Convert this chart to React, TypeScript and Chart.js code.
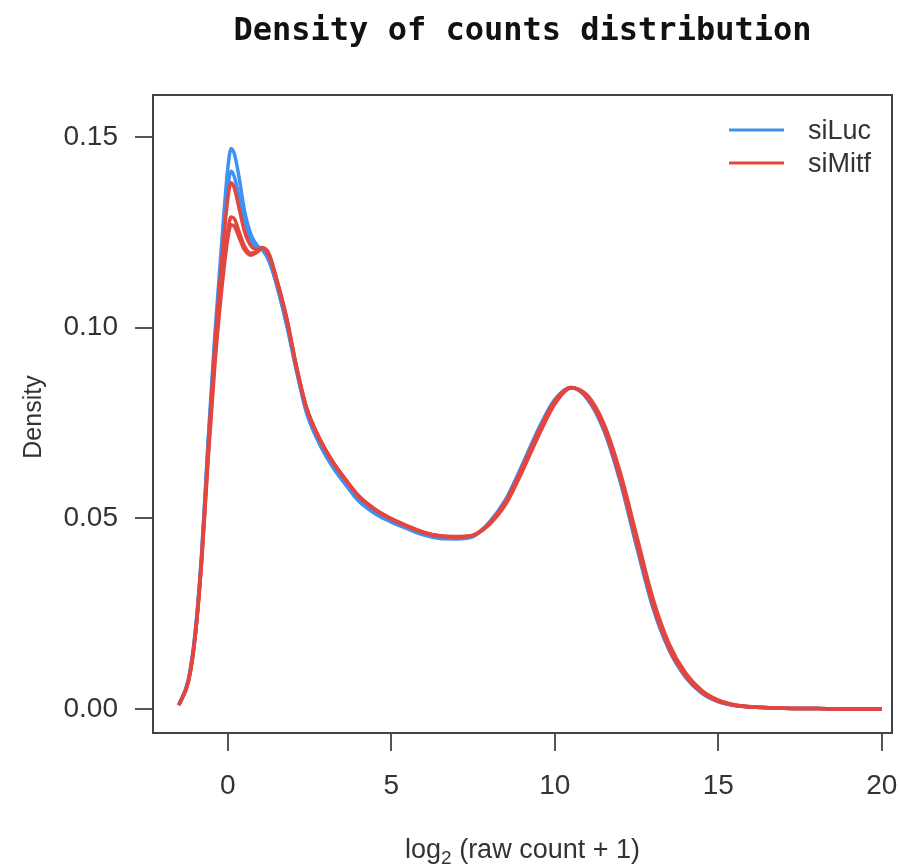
import React, { useEffect, useRef } from "react";
import { Chart, registerables } from "chart.js";

Chart.register(...registerables);

// ---------- data ----------
const xGrid = [
  -1.5, -1.2, -1.0, -0.8, -0.6, -0.4, -0.2, 0, 0.1, 0.2, 0.35, 0.5, 0.7, 0.9, 1.05, 1.25, 1.5, 1.8,
  2.1, 2.4, 2.8, 3.2, 3.6, 4.0, 4.5, 5.0, 5.5, 6.0, 6.5, 7.0, 7.5,
  8.0, 8.5, 9.0, 9.5, 10.0, 10.5, 11.0, 11.5, 12.0, 12.5, 13.0, 13.5, 14.0, 14.5, 15.0, 15.5, 16.0, 17.0, 18.0, 19.0, 20.0,
];

const siLuc1 = [
  0.001, 0.008, 0.020, 0.041, 0.071, 0.098, 0.121, 0.142, 0.147, 0.1455, 0.139, 0.131, 0.1245, 0.1215, 0.1205, 0.1175, 0.111, 0.1005,
  0.0886, 0.0778, 0.0695, 0.0635, 0.0588, 0.0545, 0.0512, 0.049, 0.0472, 0.0456, 0.0447, 0.0446, 0.0452,
  0.0490, 0.0550, 0.0640, 0.0735, 0.0812, 0.0843, 0.0812, 0.0730, 0.0595, 0.0425, 0.0265, 0.0153, 0.0083, 0.0041, 0.0019, 0.0009, 0.0005, 0.0002, 0.0001, 0.0, 0.0,
];
const siLuc2 = [
  0.001, 0.008, 0.020, 0.041, 0.070, 0.096, 0.118, 0.137, 0.141, 0.1395, 0.134, 0.128, 0.1230, 0.1210, 0.1205, 0.1180, 0.111, 0.1010,
  0.0889, 0.0781, 0.0698, 0.0638, 0.0591, 0.0548, 0.0514, 0.0492, 0.0474, 0.0458, 0.0449, 0.0448, 0.0454,
  0.0489, 0.0548, 0.0637, 0.0732, 0.0810, 0.0843, 0.0814, 0.0733, 0.0599, 0.0430, 0.0268, 0.0155, 0.0084, 0.0042, 0.0019, 0.0009, 0.0005, 0.0002, 0.0001, 0.0, 0.0,
];
const siMitf1 = [
  0.001, 0.0075, 0.019, 0.040, 0.069, 0.095, 0.116, 0.134, 0.138, 0.1365, 0.131, 0.1255, 0.1215, 0.1205, 0.1208, 0.1190, 0.112, 0.1020,
  0.0895, 0.0790, 0.0708, 0.0648, 0.0600, 0.0557, 0.0522, 0.0497, 0.0478, 0.0462, 0.0453, 0.0451, 0.0456,
  0.0488, 0.0545, 0.0633, 0.0728, 0.0808, 0.0843, 0.0815, 0.0735, 0.0603, 0.0435, 0.0273, 0.0158, 0.0086, 0.0043, 0.0020, 0.0010, 0.0005, 0.0002, 0.0001, 0.0, 0.0,
];
const siMitf2 = [
  0.001, 0.0075, 0.019, 0.039, 0.067, 0.092, 0.111, 0.1255, 0.129, 0.1285, 0.125, 0.1215, 0.1195, 0.1200, 0.1210, 0.1195, 0.1125, 0.1025,
  0.0897, 0.0792, 0.0710, 0.0650, 0.0602, 0.0559, 0.0524, 0.0499, 0.0480, 0.0463, 0.0454, 0.0452, 0.0456,
  0.0484, 0.0537, 0.0622, 0.0716, 0.0800, 0.0842, 0.0822, 0.0748, 0.0620, 0.0455, 0.0290, 0.0170, 0.0094, 0.0048, 0.0023, 0.0011, 0.0006, 0.0002, 0.0001, 0.0, 0.0,
];
const siMitf3 = [
  0.001, 0.0075, 0.019, 0.039, 0.066, 0.090, 0.109, 0.1235, 0.127, 0.1265, 0.1235, 0.1205, 0.1190, 0.1198, 0.1208, 0.1193, 0.1123, 0.1023,
  0.0896, 0.0791, 0.0709, 0.0649, 0.0601, 0.0558, 0.0523, 0.0498, 0.0479, 0.0462, 0.0453, 0.0451, 0.0455,
  0.0486, 0.0541, 0.0628, 0.0722, 0.0804, 0.0843, 0.0818, 0.0741, 0.0611, 0.0445, 0.0281, 0.0164, 0.0090, 0.0045, 0.0021, 0.0010, 0.0005, 0.0002, 0.0001, 0.0, 0.0,
];

const xTicks = [0, 5, 10, 15, 20];
const yTicks = [0, 0.05, 0.1, 0.15];
const legendLabels = ["siLuc", "siMitf"];
const titleText = "Density of counts distribution";
const yTitle = "Density";

const BLUE = "#3f92f2";
const RED = "#e2463f";

const toPts = (ys: number[]) => xGrid.map((x, i) => ({ x, y: ys[i] }));

const decor = {
  id: "decor",
  afterDraw(chart: any) {
    const { ctx, chartArea } = chart;
    const { left, right, top, bottom } = chartArea;
    ctx.save();
    // plot box
    ctx.strokeStyle = "#444";
    ctx.lineWidth = 2;
    ctx.strokeRect(left, top, right - left, bottom - top);

    const cx = (left + right) / 2;
    // title
    ctx.fillStyle = "#111";
    ctx.font = "bold 32px 'DejaVu Sans Mono'";
    ctx.textAlign = "center";
    ctx.textBaseline = "alphabetic";
    ctx.fillText(titleText, cx, 40);

    // y title
    ctx.save();
    ctx.translate(41, (top + bottom) / 2 + 3);
    ctx.rotate(-Math.PI / 2);
    ctx.font = "25px 'Liberation Sans'";
    ctx.fillStyle = "#333";
    ctx.textAlign = "center";
    ctx.textBaseline = "alphabetic";
    ctx.fillText(yTitle, 0, 0);
    ctx.restore();

    // x title: log2 (raw count + 1)
    const big = "27px 'Liberation Sans'";
    const small = "19px 'Liberation Sans'";
    ctx.font = big;
    const p1 = "log";
    const p3 = " (raw count + 1)";
    const w1 = ctx.measureText(p1).width;
    const w3 = ctx.measureText(p3).width;
    ctx.font = small;
    const w2 = ctx.measureText("2").width;
    const total = w1 + w2 + w3;
    const x0 = cx - total / 2;
    const by = 858;
    ctx.fillStyle = "#333";
    ctx.textAlign = "left";
    ctx.font = big;
    ctx.fillText(p1, x0, by);
    ctx.font = small;
    ctx.fillText("2", x0 + w1, by + 6);
    ctx.font = big;
    ctx.fillText(p3, x0 + w1 + w2, by);

    // legend
    const items = [
      { label: legendLabels[0], color: BLUE, y: 130 },
      { label: legendLabels[1], color: RED, y: 163 },
    ];
    items.forEach((it) => {
      ctx.strokeStyle = it.color;
      ctx.lineWidth = 3;
      ctx.beginPath();
      ctx.moveTo(729, it.y);
      ctx.lineTo(784, it.y);
      ctx.stroke();
      ctx.fillStyle = "#333";
      ctx.font = "27px 'Liberation Sans'";
      ctx.textBaseline = "middle";
      ctx.textAlign = "left";
      ctx.fillText(it.label, 808, it.y + 2);
    });
    ctx.restore();
  },
};

export default function App() {
  const ref = useRef<HTMLCanvasElement | null>(null);
  useEffect(() => {
    if (!ref.current) return;
    const mk = (label: string, ys: number[], color: string) => ({
      label,
      data: toPts(ys),
      borderColor: color,
      backgroundColor: color,
      borderWidth: 3.5,
      pointRadius: 0,
      fill: false,
      cubicInterpolationMode: "monotone" as const,
    });
    const chart = new Chart(ref.current, {
      type: "line",
      data: {
        datasets: [
          mk("siMitf", siMitf1, RED),
          mk("siMitf", siMitf2, RED),
          mk("siMitf", siMitf3, RED),
          mk("siLuc", siLuc2, BLUE),
          mk("siLuc", siLuc1, BLUE),
        ],
      },
      options: {
        animation: false,
        responsive: false,
        devicePixelRatio: 1,
        layout: { padding: { top: 95, right: 8, left: 0, bottom: 0 } },
        plugins: { legend: { display: false }, tooltip: { enabled: false }, title: { display: false } },
        scales: {
          x: {
            type: "linear",
            min: -2.29,
            max: 20.31,
            afterFit: (s: any) => {
              s.height = 133;
              s.paddingLeft = 0;
              s.paddingRight = 0;
            },
            afterBuildTicks: (s: any) => {
              s.ticks = xTicks.map((v) => ({ value: v }));
            },
            ticks: {
              color: "#333",
              font: { family: "'Liberation Sans'", size: 28 },
              padding: 18,
              maxRotation: 0,
              callback: (v: any) => String(v),
            },
            grid: { drawOnChartArea: false, drawTicks: true, tickLength: 18, color: "#555", lineWidth: 2 },
            border: { display: true, color: "#444", width: 2 },
          },
          y: {
            type: "linear",
            min: -0.0063,
            max: 0.161,
            afterFit: (s: any) => {
              s.width = 153;
              s.paddingTop = 0;
              s.paddingBottom = 0;
            },
            afterBuildTicks: (s: any) => {
              s.ticks = yTicks.map((v) => ({ value: v }));
            },
            ticks: {
              color: "#333",
              font: { family: "'Liberation Sans'", size: 28 },
              padding: 17,
              callback: (v: any) => Number(v).toFixed(2),
            },
            grid: { drawOnChartArea: false, drawTicks: true, tickLength: 18, color: "#555", lineWidth: 2 },
            border: { display: true, color: "#444", width: 2 },
          },
        },
      },
      plugins: [decor],
    });
    return () => chart.destroy();
  }, []);
  return (
    <div style={{ position: "absolute", left: 0, top: 0, width: 900, height: 866, background: "#fff" }}>
      <canvas ref={ref} width={900} height={866} style={{ display: "block" }} />
    </div>
  );
}
